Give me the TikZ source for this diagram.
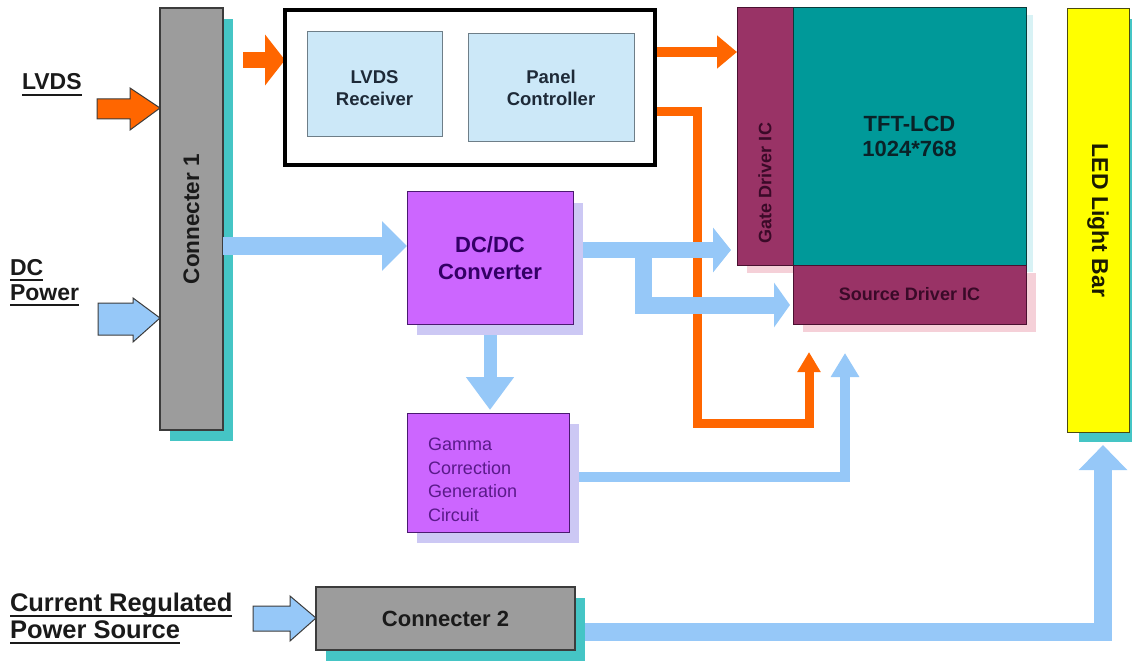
\documentclass[tikz,border=0pt]{standalone}
\usepackage{fontspec}
\setmainfont{Liberation Sans}
\usepackage{graphicx}
\usetikzlibrary{arrows.meta,shadows,backgrounds,calc}
\definecolor{cgray}{HTML}{9C9C9C}
\definecolor{cdark}{HTML}{3C3C3C}
\definecolor{cteal}{HTML}{45C5C5}
\definecolor{cblue}{HTML}{96C8F8}
\definecolor{cpale}{HTML}{CCE8F8}
\definecolor{cbord}{HTML}{6E7E88}
\definecolor{cnavy}{HTML}{1E2A38}
\definecolor{cmaroon}{HTML}{993366}
\definecolor{cmdark}{HTML}{4A1030}
\definecolor{cmtext}{HTML}{3A0A28}
\definecolor{ctft}{HTML}{009999}
\definecolor{ctdark}{HTML}{0A3A3A}
\definecolor{cttext}{HTML}{0A2228}
\definecolor{cyel}{HTML}{FFFF00}
\definecolor{cydark}{HTML}{4A4A10}
\definecolor{cytext}{HTML}{1A1A00}
\definecolor{cpurp}{HTML}{CC66FF}
\definecolor{cpdark}{HTML}{4A1A70}
\definecolor{cptext}{HTML}{330066}
\definecolor{cgtext}{HTML}{5A1A8A}
\definecolor{clav}{HTML}{CCC8F4}
\definecolor{cpink}{HTML}{F5D0D8}
\definecolor{ccyanl}{HTML}{D8F2F5}
\definecolor{corange}{HTML}{FF6600}
\definecolor{cfaint}{HTML}{CFE4F4}
\definecolor{ctext}{HTML}{1A1A1A}
\newcommand\myfs[2]{\fontsize{#1}{#2}\selectfont}
\newcommand\myul[1]{\setbox0\hbox{#1}\rlap{\raisebox{-6pt}{\rule{\wd0}{2pt}}}\box0}
\begin{document}
\begin{tikzpicture}[x=1pt,y=-1pt,
  box/.style={rectangle,inner sep=0pt,outer sep=0pt,align=center},
  lbl/.style={rectangle,inner sep=0pt,outer sep=0pt,align=left,text=ctext},
  tealshadow/.style={drop shadow={shadow xshift=10pt,shadow yshift=-11pt,fill=cteal,opacity=1}},
  lavshadow/.style={drop shadow={shadow xshift=10pt,shadow yshift=-11pt,fill=clav,opacity=1}},
  pinkshadow/.style={drop shadow={shadow xshift=10pt,shadow yshift=-8pt,fill=cpink,opacity=1}},
  cyanshadow/.style={drop shadow={shadow xshift=7pt,shadow yshift=-7pt,fill=ccyanl,opacity=1}},
  blockarrow/.style={draw=cdark,line width=1pt,line join=miter},
  oraA/.style={draw=corange,line width=16pt,-{Triangle[width=50pt,length=20pt]}},
  oraB/.style={draw=corange,line width=10pt,-{Triangle[width=32pt,length=20pt]}},
  oraC/.style={draw=corange,line width=9pt,line join=miter,-{Triangle[width=22pt,length=20pt]}},
  blA/.style={draw=cblue,line width=18pt,-{Triangle[width=48pt,length=25pt]}},
  blB/.style={draw=cblue,line width=16pt,-{Triangle[width=44pt,length=18pt]}},
  blC/.style={draw=cblue,line width=17pt,line join=miter,-{Triangle[width=44pt,length=16pt]}},
  blD/.style={draw=cblue,line width=13pt,-{Triangle[width=46pt,length=33pt]}},
  blE/.style={draw=cblue,line width=10pt,line join=miter,-{Triangle[width=27pt,length=24pt]}},
  blF/.style={draw=cblue,line width=18pt,line join=miter,-{Triangle[width=47pt,length=25pt]}},
  faint/.style={draw=cfaint,line width=6pt,-{Triangle[width=20pt,length=10pt]}}
]
\useasboundingbox (0,0) rectangle (1132,663);

% helper coordinates
\coordinate (h52) at (0,52);
\coordinate (h86) at (0,86);
\coordinate (h112) at (0,112);
\coordinate (h246) at (0,246);
\coordinate (h250) at (0,250);
\coordinate (h305) at (0,305);
\coordinate (h410) at (0,410);
\coordinate (h477) at (0,477);
\coordinate (h632) at (0,632);
\coordinate (oin) at (243,60);
\coordinate (br) at (643,244);
\coordinate (ocorner) at (697,423);
\coordinate (srcA) at (809,352);
\coordinate (srcB) at (845,353);
\coordinate (ledin) at (1103,445);
\coordinate (gatein) at (731,250);
\coordinate (srcin) at (790,305);

% boxes
\node[box,minimum width=63pt,minimum height=422pt,fill=cgray,draw=cdark,line width=1.2pt,tealshadow,font=\myfs{22.5}{26}\bfseries,text=ctext] (c1) at (191.5,219) {\rotatebox{90}{Connecter 1}};

\node[box,minimum width=370pt,minimum height=155pt,fill=white,draw=black,line width=4pt] (pbox) at (470,87.5) {};
\node[box,minimum width=135pt,minimum height=105pt,fill=cpale,draw=cbord,line width=1pt,font=\myfs{18.5}{22}\bfseries,text=cnavy] (recv) at (374.5,84.5) {\rule{0pt}{20pt}LVDS\\Receiver};
\node[box,minimum width=166pt,minimum height=108pt,fill=cpale,draw=cbord,line width=1pt,font=\myfs{18.5}{22}\bfseries,text=cnavy] (panel) at (551,88) {Panel\\Controller};

\node[box,minimum width=56pt,minimum height=257pt,fill=cmaroon,draw=cmdark,line width=1pt,pinkshadow,font=\myfs{18}{20}\bfseries,text=cmtext] (gate) at (765,136.5) {\rotatebox{90}{Gate Driver IC\hspace{93pt}}};
\node[box,minimum width=233pt,minimum height=257pt,fill=ctft,draw=ctdark,line width=1pt,cyanshadow,font=\myfs{22}{25}\bfseries,text=cttext] (tft) at (909.5,136.5) {TFT-LCD\\1024*768};
\node[box,minimum width=233pt,minimum height=59pt,fill=cmaroon,draw=cmdark,line width=1pt,pinkshadow,font=\myfs{18}{20}\bfseries,text=cmtext] (src) at (909.5,294.5) {Source Driver IC};

\node[box,minimum width=62pt,minimum height=423pt,fill=cyel,draw=cydark,line width=1pt,drop shadow={shadow xshift=12pt,shadow yshift=-10pt,fill=cteal,opacity=1},font=\myfs{23}{26}\bfseries,text=cytext] (led) at (1098,220.5) {\rotatebox{-90}{LED Light Bar}};

\node[box,minimum width=166pt,minimum height=132pt,fill=cpurp,draw=cpdark,line width=1pt,lavshadow,font=\myfs{22}{27}\bfseries,text=cptext] (dcdc) at (490,258) {DC/DC\\Converter};
\node[box,minimum width=162pt,minimum height=119pt,fill=cpurp,draw=cpdark,line width=1pt,lavshadow,font=\myfs{18}{23.5},text=cgtext,align=left,text width=120pt,inner xsep=21pt] (gamma) at (488,472.5) {\rule{0pt}{27pt}Gamma\\Correction\\Generation\\Circuit};

\node[box,minimum width=259pt,minimum height=63pt,fill=cgray,draw=cdark,line width=1.2pt,tealshadow,font=\myfs{22}{26}\bfseries,text=ctext] (c2) at (445.5,618.5) {Connecter 2};

% labels
\node[lbl,anchor=base west,font=\myfs{23}{25}\bfseries] (lvds) at (22,90) {\myul{LVDS}};
\node[lbl,anchor=north west,font=\myfs{23}{25}\bfseries] (dcp) at (10,259) {\myul{DC}\\\myul{Power}};
\node[lbl,anchor=north west,font=\myfs{25.5}{27}\bfseries] (crp) at (10,593) {\myul{Current Regulated}\\\myul{Power Source}};

% incoming block arrows
\draw[blockarrow,fill=corange] (97,99) -- (130,99) -- (130,88) -- (c1.west |- 0,108) -- (130,130) -- (130,119) -- (97,119) -- cycle;
\draw[blockarrow,fill=cblue] (98,303) -- (133,303) -- (133,298) -- (c1.west |- 0,318) -- (133,342) -- (133,335) -- (98,335) -- cycle;
\draw[blockarrow,fill=cblue] (253,606) -- (290,606) -- (290,596) -- (c2.west |- 0,618) -- (290,641) -- (290,631) -- (253,631) -- cycle;

% connector over the shadow
\draw[blA] (c1.east |- h246) -- (dcdc.west |- h246);

% connectors behind boxes
\begin{pgfonlayer}{background}
\fill[white] (0,0) rectangle (1132,663);
\draw[oraA] (oin) -- (pbox.west |- oin);
\draw[faint] (recv.east |- h86) -- (panel.west |- h86);
\draw[oraB] (pbox.east |- h52) -- (gate.west |- h52);
\draw[oraC] (pbox.east |- h112) -| (ocorner) -| (srcA);
\draw[blB] (dcdc.east |- h250) -- (gatein);
\draw[blC] (br) |- (srcin);
\draw[blD] (dcdc.south) -- (dcdc.south |- h410);
\draw[blE] (gamma.east |- h477) -| (srcB);
\draw[blF] (c2.east |- h632) -| (ledin);
\end{pgfonlayer}
\end{tikzpicture}
\end{document}
